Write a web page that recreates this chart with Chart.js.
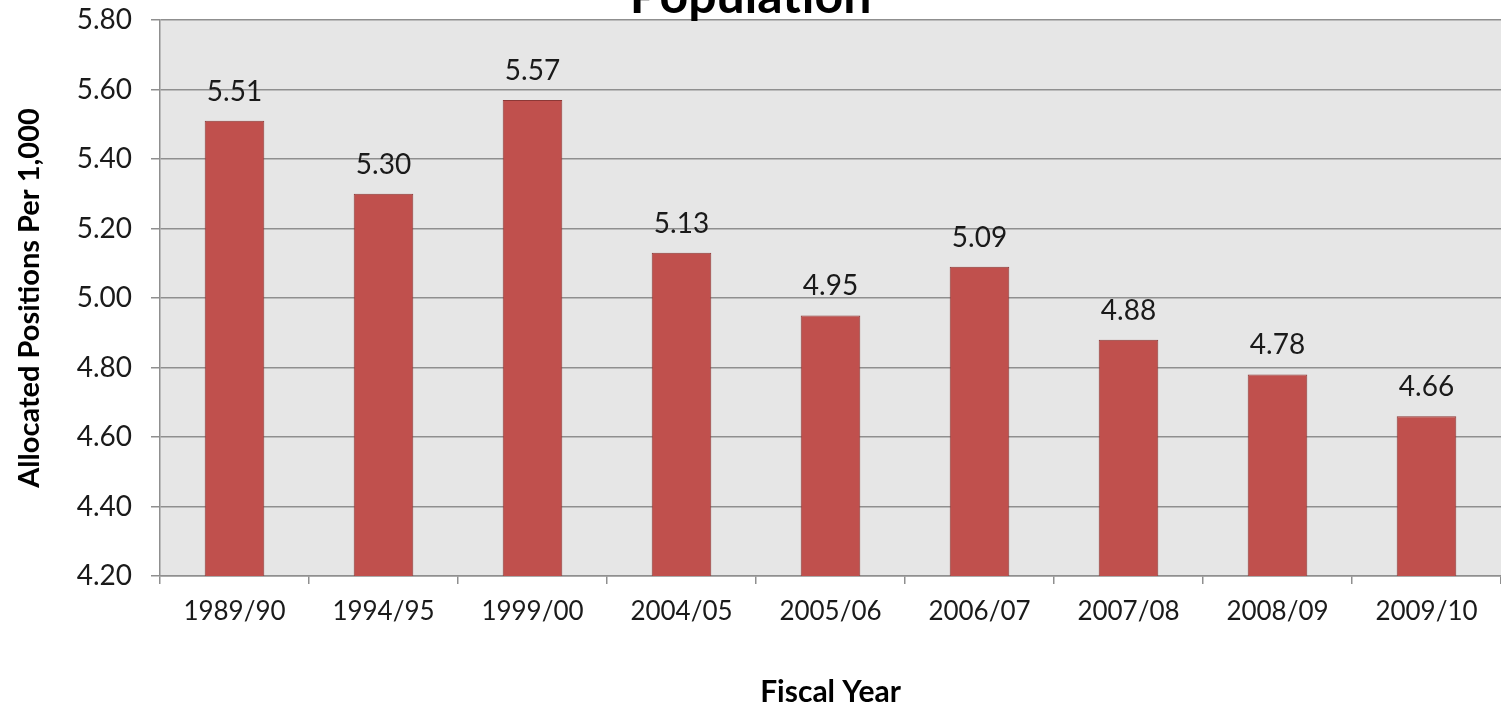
<!DOCTYPE html>
<html>
<head>
<meta charset="utf-8">
<script src="https://cdn.jsdelivr.net/npm/chart.js@4.4.1/dist/chart.umd.min.js"></script>
<style>
  html, body { margin: 0; padding: 0; background: #ffffff; overflow: hidden; width: 1501px; height: 710px; }
  #c { position: absolute; left: 0; top: -42px; }
</style>
</head>
<body>
<canvas id="c" width="1553" height="752"></canvas>
<script>
const categories = ['1989/90', '1994/95', '1999/00', '2004/05', '2005/06', '2006/07', '2007/08', '2008/09', '2009/10'];
const positionsPer1000 = [5.51, 5.30, 5.57, 5.13, 4.95, 5.09, 4.88, 4.78, 4.66];
const yTicks = [4.20, 4.40, 4.60, 4.80, 5.00, 5.20, 5.40, 5.60, 5.80];
const titleText = 'Population';
const xTitle = 'Fiscal Year';
const yTitle = 'Allocated Positions Per 1,000';

const FONT = 'Lato, "Open Sans", sans-serif';

const plotBg = {
  id: 'plotBg',
  beforeDraw(chart) {
    const {ctx, chartArea: a} = chart;
    ctx.save();
    ctx.fillStyle = '#e6e6e6';
    ctx.fillRect(a.left, a.top, a.right - a.left, a.bottom - a.top);
    ctx.restore();
  }
};

const valueLabels = {
  id: 'valueLabels',
  afterDatasetsDraw(chart) {
    const {ctx} = chart;
    const meta = chart.getDatasetMeta(0);
    ctx.save();
    ctx.font = '28px ' + FONT;
    ctx.fillStyle = '#1a1a1a';
    ctx.textAlign = 'center';
    ctx.textBaseline = 'middle';
    meta.data.forEach((bar, i) => {
      ctx.fillText(positionsPer1000[i].toFixed(2), bar.x, bar.y - 29);
    });
    ctx.restore();
  }
};

new Chart(document.getElementById('c'), {
  type: 'bar',
  data: {
    labels: categories,
    datasets: [{
      data: positionsPer1000,
      backgroundColor: '#c0504d',
      borderColor: '#8c3836',
      borderWidth: 1,
      barPercentage: 0.4,
      categoryPercentage: 1.0
    }]
  },
  options: {
    responsive: false,
    animation: false,
    devicePixelRatio: 1,
    layout: { padding: { left: 0, right: 52, top: 0, bottom: 0 } },
    plugins: {
      legend: { display: false },
      tooltip: { enabled: false },
      title: {
        display: true,
        text: titleText,
        color: '#000000',
        font: { family: FONT, size: 50, weight: 'bold', lineHeight: 1 },
        padding: { top: 14, bottom: -2 }
      }
    },
    scales: {
      x: {
        grid: {
          display: true,
          drawOnChartArea: false,
          drawTicks: true,
          tickLength: 8,
          color: '#8f8f8f',
          lineWidth: 1.5,
          offset: true
        },
        border: { display: true, color: '#8f8f8f', width: 1.5 },
        ticks: {
          color: '#1a1a1a',
          font: { family: FONT, size: 26 },
          padding: 12,
          maxRotation: 0
        },
        title: {
          display: true,
          text: xTitle,
          color: '#000000',
          font: { family: FONT, size: 30, weight: 'bold' },
          padding: { top: 0, bottom: 0 }
        },
        afterFit(scale) { scale.height = 134; }
      },
      y: {
        min: 4.2,
        max: 5.8,
        afterBuildTicks(scale) { scale.ticks = yTicks.map(v => ({ value: v })); },
        grid: {
          color: '#8f8f8f',
          lineWidth: 1.5,
          drawTicks: true,
          tickLength: 9
        },
        border: { display: true, color: '#8f8f8f', width: 1.5 },
        ticks: {
          color: '#1a1a1a',
          font: { family: FONT, size: 28 },
          padding: 19,
          callback: (v) => Number(v).toFixed(2)
        },
        title: {
          display: true,
          text: yTitle,
          color: '#000000',
          font: { family: FONT, size: 29, weight: 'bold' },
          padding: { top: 12, bottom: 0 }
        },
        afterFit(scale) { scale.width = 160; }
      }
    }
  },
  plugins: [plotBg, valueLabels]
});
</script>
</body>
</html>
